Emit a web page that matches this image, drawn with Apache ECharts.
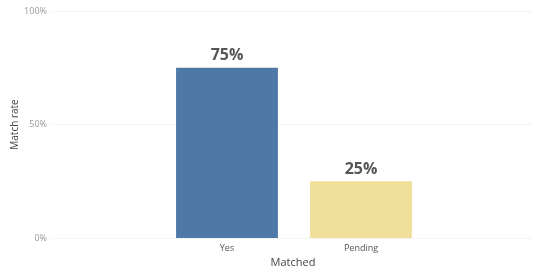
<!DOCTYPE html>
<html>
<head>
<meta charset="utf-8">
<script src="https://cdn.jsdelivr.net/npm/echarts@6/dist/echarts.min.js"></script>
<style>
  html, body { margin: 0; padding: 0; background: #fff; }
  #main { width: 535px; height: 272px; }
</style>
</head>
<body>
<div id="main"></div>
<script>
// data
var categories = ['Yes', 'Pending'];
var matchRate = [75, 25];
var barColors = ['#4e78a5', '#efdf98'];
var yTicks = [0, 50, 100];

var chart = echarts.init(document.getElementById('main'));
var font = '"Open Sans", "DejaVu Sans", sans-serif';

var barData = [];
for (var i = 0; i < matchRate.length; i++) {
    barData.push({ value: matchRate[i], itemStyle: { color: barColors[i] } });
}

var option = {
    animation: false,
    textStyle: { fontFamily: font },
    grid: [
        // full width grid for the y axis and gridlines
        { left: 53, right: 2, top: 11, bottom: 34, outerBoundsMode: 'none' },
        // narrower grid holding the bars
        { left: 160, width: 268, top: 11, bottom: 34, outerBoundsMode: 'none' }
    ],
    xAxis: [
        {
            gridIndex: 0,
            type: 'value',
            min: 0, max: 1,
            axisLine: { show: false },
            axisTick: { show: false },
            axisLabel: { show: false },
            splitLine: { show: false },
            name: 'Matched',
            nameLocation: 'middle',
            nameGap: 19,
            nameTextStyle: { color: '#444', fontSize: 11, fontFamily: font }
        },
        {
            gridIndex: 1,
            type: 'category',
            data: categories,
            axisLine: { show: false },
            axisTick: { show: false },
            axisLabel: { color: '#555', fontSize: 9, margin: 6, fontFamily: font }
        }
    ],
    yAxis: [
        {
            gridIndex: 0,
            type: 'value',
            min: yTicks[0],
            max: yTicks[yTicks.length - 1],
            interval: 50,
            name: 'Match rate',
            nameLocation: 'middle',
            nameGap: 33,
            nameMoveOverlap: false,
            nameTextStyle: { color: '#444', fontSize: 10, fontFamily: font },
            axisLine: { show: false },
            axisTick: { show: false },
            axisLabel: {
                color: '#999', fontSize: 9, margin: 6, fontFamily: font,
                formatter: '{value}%'
            },
            splitLine: { lineStyle: { color: '#d9d9d9', type: [1, 3], width: 1 } }
        },
        {
            gridIndex: 1,
            type: 'value',
            min: 0, max: 100,
            show: false
        }
    ],
    series: [
        {
            type: 'bar',
            xAxisIndex: 1,
            yAxisIndex: 1,
            barCategoryGap: '24%',
            data: barData,
            label: {
                show: true,
                position: 'top',
                distance: 4,
                formatter: '{c}%',
                color: '#555',
                fontSize: 16,
                fontWeight: 'bold',
                fontFamily: font
            }
        }
    ]
};

chart.setOption(option);
</script>
</body>
</html>
